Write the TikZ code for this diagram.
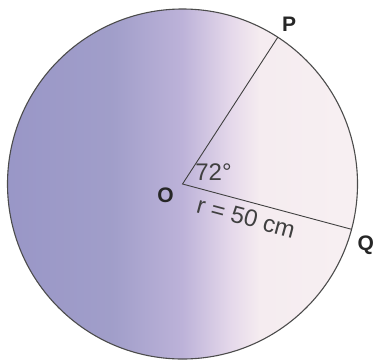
\documentclass[tikz,border=0pt]{standalone}
\usepackage{fontspec}
\setmainfont{Liberation Sans}
\usetikzlibrary{positioning}

\pgfdeclarehorizontalshading{discshade}{100bp}{
  rgb(0bp)=(0.60,0.59,0.78);
  rgb(25bp)=(0.60,0.59,0.78);
  rgb(40bp)=(0.63,0.62,0.79);
  rgb(50bp)=(0.74,0.70,0.85);
  rgb(57bp)=(0.90,0.85,0.92);
  rgb(61bp)=(0.96,0.925,0.94);
  rgb(75bp)=(0.97,0.94,0.95);
  rgb(100bp)=(0.97,0.94,0.95)}

\begin{document}
\begin{tikzpicture}[
  x=1pt,y=1pt,
  disc/.style={draw=black!70,line width=1.1pt,shading=discshade},
  radius line/.style={draw=black!75,line width=0.9pt},
  point/.style={inner sep=0pt,font=\bfseries\fontsize{21}{25}\selectfont,text=black!85},
  measure/.style={inner sep=0pt,font=\fontsize{24}{28}\selectfont,text=black!75}
]
  \useasboundingbox (0,0) rectangle (374,360);
  \coordinate (O) at (182.5,176);
  \coordinate (P) at ([shift={(57:175pt)}]O);
  \coordinate (Q) at ([shift={(-15:175pt)}]O);

  \path[disc] (O) circle[radius=175pt];
  \draw[radius line] (P) -- (O) -- (Q);

  \node[point,anchor=south west] (Plabel) at ([shift={(4pt,6pt)}]P) {P};
  \node[point,anchor=north west] (Qlabel) at ([shift={(6pt,-6pt)}]Q) {Q};
  \node[point] (Olabel) at ([shift={(-17pt,-11pt)}]O) {O};
  \node[measure] (angle) at ([shift={(31pt,12pt)}]O) {72°};
  \path (O) -- (Q) node[measure,pos=0.4,sloped,below=7pt] (rlabel) {r = 50 cm};
\end{tikzpicture}
\end{document}
